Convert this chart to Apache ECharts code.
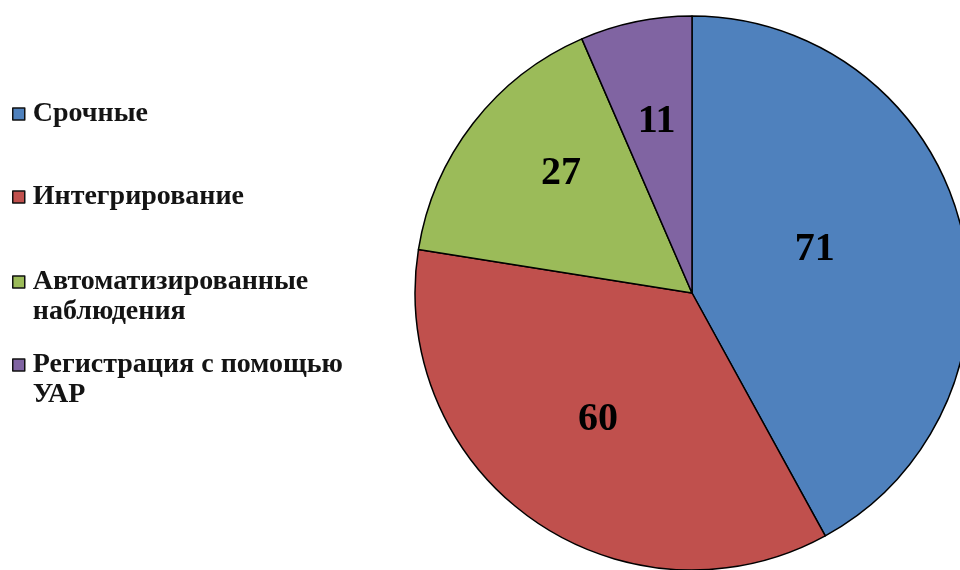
<!DOCTYPE html>
<html>
<head>
<meta charset="utf-8">
<script src="https://cdn.jsdelivr.net/npm/echarts@6/dist/echarts.min.js"></script>
<style>
  html, body { margin: 0; padding: 0; background: #fff; }
  #chart { width: 960px; height: 570px; }
</style>
</head>
<body>
<div id="chart"></div>
<script>
// Categories and their counts
const categories = ['Срочные', 'Интегрирование', 'Автоматизированные наблюдения', 'Регистрация с помощью УАР'];
const legendLines = [['Срочные'], ['Интегрирование'], ['Автоматизированные', 'наблюдения'], ['Регистрация с помощью', 'УАР']];
const values = [71, 60, 27, 11];
const colors = ['#4F81BD', '#C0504D', '#9BBB59', '#8064A2'];

// Pie geometry and label placement: radial fraction and angular nudge (degrees) per slice
const CX = 692, CY = 293, R = 277;
const labelFrac = [0.47, 0.57, 0.64, 0.63];
const labelTurn = [-5, 1.4, 4.5, 0];
const legendTops = [114, 197, 282, 365];
const LINE_H = 30;

const chart = echarts.init(document.getElementById('chart'), null, { renderer: 'canvas' });

// One legend per entry so wrapped names keep the marker beside their first line:
// an empty leading line makes the first real line the vertical middle of the block.
const legends = categories.map((name, i) => {
  const lines = legendLines[i];
  const blockLines = lines.length > 1 ? [''].concat(lines) : lines;
  return {
    show: true,
    left: 12,
    top: legendTops[i] - (blockLines.length * LINE_H) / 2,
    padding: 0,
    orient: 'vertical',
    icon: 'rect',
    itemWidth: 12,
    itemHeight: 12,
    selectedMode: false,
    data: [name],
    formatter: () => blockLines.join('\n'),
    itemStyle: { borderColor: '#111', borderWidth: 1.5 },
    textStyle: {
      fontFamily: '"Liberation Serif", "Times New Roman", serif',
      fontWeight: 'bold',
      fontSize: 28,
      lineHeight: LINE_H,
      color: '#141414',
      padding: [0, 0, 0, 3]
    }
  };
});

chart.setOption({
  animation: false,
  color: colors,
  legend: legends,
  series: [{
    type: 'pie',
    center: [CX, CY],
    radius: [0, R],
    startAngle: 90,
    clockwise: true,
    avoidLabelOverlap: false,
    data: categories.map((name, i) => ({ name, value: values[i] })),
    itemStyle: { borderColor: '#000', borderWidth: 1.5 },
    label: {
      show: true,
      position: 'inside',
      formatter: '{c}',
      fontFamily: '"Liberation Serif", "Times New Roman", serif',
      fontWeight: 'bold',
      fontSize: 40,
      color: '#000'
    },
    labelLine: { show: false },
    emphasis: { disabled: true },
    labelLayout: function (params) {
      const i = params.dataIndex;
      const lx = params.labelRect.x + params.labelRect.width / 2;
      const ly = params.labelRect.y + params.labelRect.height / 2;
      const vx = lx - CX, vy = ly - CY;
      const len = Math.sqrt(vx * vx + vy * vy) || 1;
      const t = labelTurn[i] * Math.PI / 180;
      const ux = (vx * Math.cos(t) - vy * Math.sin(t)) / len;
      const uy = (vx * Math.sin(t) + vy * Math.cos(t)) / len;
      const d = labelFrac[i] * R;
      return { dx: CX + ux * d - lx, dy: CY + uy * d - ly };
    }
  }]
});
</script>
</body>
</html>
